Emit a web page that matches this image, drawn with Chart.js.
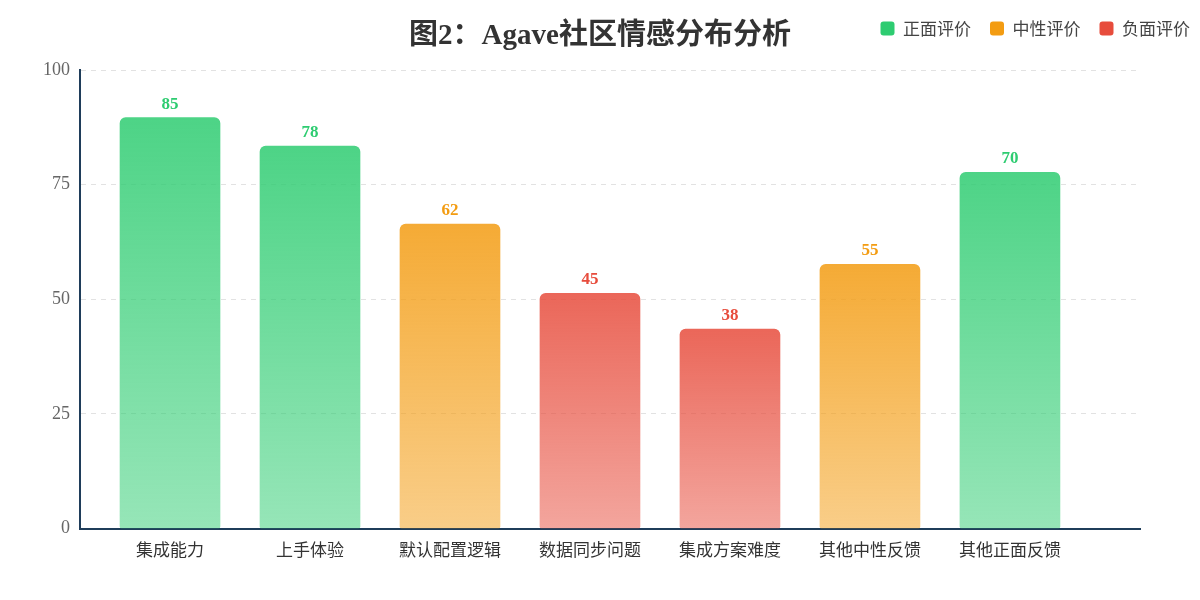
<!DOCTYPE html>
<html>
<head>
<meta charset="utf-8">
<script src="https://cdn.jsdelivr.net/npm/chart.js@4"></script>
<style>
  html, body { margin:0; padding:0; background:#fff; }
  #wrap { position:relative; width:1200px; height:600px; }
  #title {
    position:absolute; left:0; top:10px; width:1200px; text-align:center;
    font: bold 29px "Liberation Serif","DejaVu Serif","Noto Sans CJK SC",serif;
    color:#333; pointer-events:none;
  }
</style>
</head>
<body>
<div id="wrap">
  <div id="title">图2：Agave社区情感分布分析</div>
  <canvas id="sentimentChart"></canvas>
</div>
<script>
// ========================== DATA ==========================
const categories = ["集成能力","上手体验","默认配置逻辑","数据同步问题","集成方案难度","其他中性反馈","其他正面反馈"];
// bar heights as drawn on the y axis
const barValues = [89.6, 83.4, 66.4, 51.3, 43.5, 57.6, 77.7];
// numbers printed above each bar
const labelValues = [85, 78, 62, 45, 38, 55, 70];
// sentiment group of each category
const sentiment = ["pos","pos","neu","neg","neg","neu","pos"];
const yTicks = [0, 25, 50, 75, 100];

const groups = [
  { key:"pos", name:"正面评价", rgb:[46,204,113] },
  { key:"neu", name:"中性评价", rgb:[243,156,18] },
  { key:"neg", name:"负面评价", rgb:[231,76,60] }
];

const SERIF = '"Liberation Serif","DejaVu Serif","Noto Sans CJK SC",serif';
const SANS = '"Noto Sans CJK SC","Noto Sans",sans-serif';

// ========================== HELPERS ==========================
function rgba(c, a){
  return `rgba(${c[0]},${c[1]},${c[2]},${a})`;
}

function barGradient(ctx, c){
  const chart = ctx.chart;
  if(!chart.chartArea || !ctx.raw) return rgba(c, 0.8);
  const y = chart.scales.y;
  const top = y.getPixelForValue(ctx.raw.y);
  const bottom = y.getPixelForValue(0);
  const g = chart.ctx.createLinearGradient(0, top, 0, bottom);
  g.addColorStop(0, rgba(c, 0.85));
  g.addColorStop(1, rgba(c, 0.5));
  return g;
}

// numbers above bars
const valueLabels = {
  id:"valueLabels",
  afterDatasetsDraw(chart){
    const ctx = chart.ctx;
    ctx.save();
    ctx.font = "bold 17px " + SERIF;
    ctx.textAlign = "center";
    ctx.textBaseline = "bottom";
    chart.data.datasets.forEach((ds, di) => {
      const meta = chart.getDatasetMeta(di);
      meta.data.forEach((bar, i) => {
        ctx.fillStyle = rgba(ds.rgb, 1);
        ctx.fillText(ds.printed[i], bar.x, bar.y - 5);
      });
    });
    ctx.restore();
  }
};

// extra room below the legend, legend pushed to the right edge
const legendSpace = {
  id:"legendSpace",
  beforeInit(chart){
    const fit = chart.legend.fit;
    chart.legend.fit = function(){
      fit.bind(chart.legend)();
      this.height += 23;
    };
  },
  afterLayout(chart){
    chart.legend.left += 9;
    chart.legend.right += 9;
  }
};

// ========================== CHART ==========================
const datasets = groups.map(g => {
  const idx = categories.map((_, i) => i).filter(i => sentiment[i] === g.key);
  return {
    label: g.name,
    rgb: g.rgb,
    data: idx.map(i => ({ x: i, y: barValues[i] })),
    printed: idx.map(i => labelValues[i]),
    backgroundColor: ctx => barGradient(ctx, g.rgb),
    borderWidth: 0,
    borderRadius: { topLeft:6, topRight:6, bottomLeft:2, bottomRight:2 },
    borderSkipped: false,
    barThickness: 100,
    grouped: false
  };
});

const ctx = document.getElementById("sentimentChart").getContext("2d");
const chart = new Chart(ctx, {
  type: "bar",
  data: { datasets },
  options: {
    responsive: true,
    maintainAspectRatio: false,
    animation: false,
    layout: { padding: { top: 1, right: 0, bottom: 37, left: 0 } },
    plugins: {
      tooltip: { enabled: false },
      legend: {
        position: "top",
        align: "end",
        labels: {
          boxWidth: 14,
          boxHeight: 14,
          useBorderRadius: true,
          borderRadius: 3,
          padding: 19,
          color: "#444",
          font: { family: SANS, size: 17 },
          generateLabels: ch => ch.data.datasets.map((ds, i) => ({
            text: ds.label,
            fillStyle: rgba(ds.rgb, 1),
            strokeStyle: rgba(ds.rgb, 1),
            lineWidth: 0,
            borderRadius: 3,
            fontColor: "#444",
            datasetIndex: i
          }))
        }
      }
    },
    scales: {
      x: {
        type: "linear",
        offset: false,
        min: -0.643,
        max: 6.929,
        afterBuildTicks: axis => { axis.ticks = categories.map((_, i) => ({ value: i })); },
        grid: { display: false },
        border: { display: true, color: "#1f3d5a", width: 2 },
        ticks: {
          color: "#333",
          font: { family: SANS, size: 17 },
          padding: 3,
          maxRotation: 0,
          autoSkip: false,
          callback: v => categories[v]
        }
      },
      y: {
        min: 0,
        max: 100,
        afterBuildTicks: axis => { axis.ticks = yTicks.map(v => ({ value: v })); },
        afterFit: axis => { axis.width = 80; },
        grid: {
          color: c => c.tick && c.tick.value === 0 ? "rgba(0,0,0,0)" : "#e2e2e2",
          lineWidth: 1,
          drawTicks: false
        },
        border: { display: true, color: "#1f3d5a", width: 2, dash: [5, 5] },
        ticks: {
          color: "#666",
          font: { family: SERIF, size: 18 },
          padding: 10
        }
      },
      yRight: {
        position: "right",
        min: 0,
        max: 100,
        afterFit: axis => { axis.width = 60; },
        grid: { display: false },
        border: { display: false },
        ticks: { display: false }
      }
    }
  },
  plugins: [valueLabels, legendSpace]
});
</script>
</body>
</html>
